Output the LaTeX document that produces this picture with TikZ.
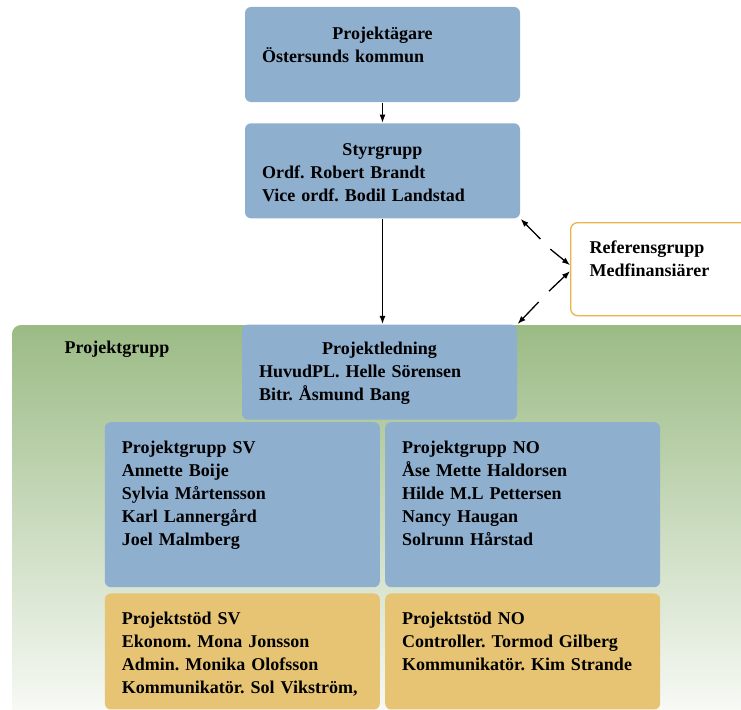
\documentclass[tikz,border=0pt]{standalone}
\usepackage{fontspec}
\setmainfont{Liberation Serif}
\usetikzlibrary{positioning,calc,arrows.meta}
\setlength{\parindent}{0pt}
\frenchspacing

\definecolor{blockblue}{RGB}{143,175,207}
\definecolor{stodgold}{RGB}{230,196,115}
\definecolor{refgold}{RGB}{232,182,72}
\definecolor{projgreen}{RGB}{155,187,133}

\tikzstyle{block} = [fill=blockblue, rectangle, rounded corners=6pt,
    minimum height=95pt, minimum width=275pt, inner sep=0pt]
\tikzstyle{grpbox} = [block, minimum height=165pt]
\tikzstyle{stod} = [block, fill=stodgold, minimum height=116pt]
\tikzstyle{refbox} = [draw=refgold, line width=1.3pt, fill=white, rectangle,
    rounded corners=7pt, minimum height=93pt, minimum width=200pt]
\tikzstyle{txt} = [anchor=north west, inner sep=0pt, text width=241pt,
    font=\fontsize{18}{23}\selectfont\bfseries, execute at begin node=\strut]
\tikzstyle{lbl} = [anchor=base west, inner sep=0pt,
    font=\fontsize{18}{23}\selectfont\bfseries]

\begin{document}
\begin{tikzpicture}[x=1pt, y=-1pt, line width=1.3pt,
    >={Latex[length=8pt,width=6pt]}]
    \useasboundingbox (0,0) rectangle (741,709);
    % green background of the project group
    \begin{scope}
        \clip (0,0) rectangle (741,709);
        \shade [top color=projgreen, bottom color=projgreen!6, rounded corners=9pt]
            (12,325) rectangle (760,720);
    \end{scope}
    \node [lbl] (grupplbl) at (64,353) {Projektgrupp};

    \node [block] (agare) at (382.5,54.5) {};
    \node [block, below=20pt of agare] (styr) {};
    \node [block, below=105pt of styr, xshift=-3pt] (ledning) {};
    \node [grpbox, anchor=north east] (sv) at (380.5,421.5) {};
    \node [grpbox, right=4pt of sv] (no) {};
    \node [stod, below=5pt of sv] (stodsv) {};
    \node [stod, right=4pt of stodsv] (stodno) {};
    \begin{scope}
        \clip (0,0) rectangle (741,709);
        \node [refbox, anchor=north west] (ref) at (570,222) {};
    \end{scope}

    \node [txt] (agaretxt) at ([xshift=17pt,yshift=-16.5pt]agare.north west)
        {{\centering Projektägare\par}Östersunds kommun};
    \node [txt] (styrtxt) at ([xshift=17pt,yshift=-16.5pt]styr.north west)
        {{\centering Styrgrupp\par}Ordf. Robert Brandt\\Vice ordf. Bodil Landstad};
    \node [txt] (ledningtxt) at ([xshift=17pt,yshift=-14pt]ledning.north west)
        {{\centering Projektledning\par}HuvudPL. Helle Sörensen\\Bitr. Åsmund Bang};
    \node [txt] (svtxt) at ([xshift=17pt,yshift=-15pt]sv.north west)
        {Projektgrupp SV\\Annette Boije\\Sylvia Mårtensson\\Karl Lannergård\\Joel Malmberg};
    \node [txt] (notxt) at ([xshift=17pt,yshift=-15pt]no.north west)
        {Projektgrupp NO\\Åse Mette Haldorsen\\Hilde M.L Pettersen\\Nancy Haugan\\Solrunn Hårstad};
    \node [txt] (stodsvtxt) at ([xshift=17pt,yshift=-15pt]stodsv.north west)
        {Projektstöd SV\\Ekonom. Mona Jonsson\\Admin. Monika Olofsson\\Kommunikatör. Sol Vikström,};
    \node [txt] (stodnotxt) at ([xshift=17pt,yshift=-15pt]stodno.north west)
        {Projektstöd NO\\Controller. Tormod Gilberg\\Kommunikatör. Kim Strande};
    \node [txt, text width=145pt] (reftxt) at ([xshift=19pt,yshift=-15pt]ref.north west)
        {Referensgrupp\\Medfinansiärer};

    \draw [->] (agare) -- (styr);
    \draw [->] (styr.south) -- (styr.south |- ledning.north);
    \draw [->] ($(styr.south east)!0.4!(ref.west)$) -- (styr.south east);
    \draw [->] ($(styr.south east)!0.6!(ref.west)$) -- ([yshift=4pt]ref.west);
    \draw [->] ($(ledning.north east)!0.6!(ref.west)$) -- ([yshift=-2pt]ref.west);
    \draw [->] ($(ledning.north east)!0.4!(ref.west)$) -- (ledning.north east);
\end{tikzpicture}
\end{document}
